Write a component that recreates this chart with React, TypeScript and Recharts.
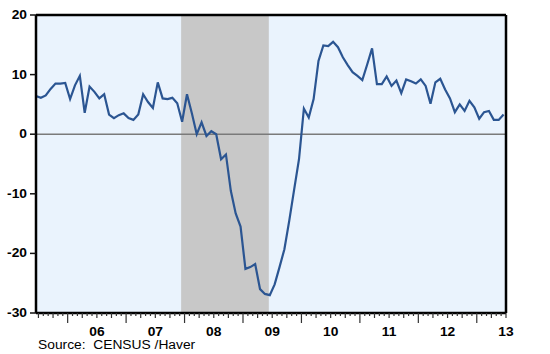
import { LineChart, Line, XAxis, YAxis, CartesianGrid, ReferenceArea, ReferenceLine } from "recharts"

// monthly index: 0 = Jan 2005; first value is Jun 2005
const startMonth = 5
const yoyChange = [
  6.4, 6.1, 6.5, 7.6, 8.5, 8.5, 8.6,
  5.9, 8.2, 9.8, 3.6, 8.0, 7.1, 6.0, 6.7, 3.3, 2.7, 3.2, 3.5,
  2.7, 2.4, 3.3, 6.7, 5.4, 4.4, 8.7, 6.0, 5.9, 6.1, 5.2, 2.1,
  6.7, 3.5, 0.0, 2.0, -0.3, 0.5, 0.0, -4.2, -3.4, -9.5, -13.3, -15.5,
  -22.6, -22.3, -21.8, -26.0, -26.8, -27.0, -25.2, -22.3, -19.3, -14.5, -9.3, -4.2,
  4.3, 2.8, 5.9, 12.3, 14.9, 14.8, 15.5, 14.6, 12.9, 11.6, 10.4, 9.8,
  9.1, 11.7, 14.4, 8.4, 8.4, 9.7, 8.1, 9.0, 6.9, 9.2, 8.9, 8.5,
  9.2, 8.1, 5.1, 8.7, 9.3, 7.5, 6.0, 3.7, 5.0, 3.9, 5.6, 4.5,
  2.6, 3.7, 3.9, 2.4, 2.4, 3.3,
]
const yTicks = [-30, -20, -10, 0, 10, 20]
const yDomain = [-30, 20]
const recession = [35.3, 53.3]
const xDomain = [5.5, 102]
const monthTicks = Array.from({ length: 97 }, (_, i) => i + 6)
const yearLabels = ["06", "07", "08", "09", "10", "11", "12", "13"]
const sourceNote = "Source:  CENSUS /Haver"

// points sit in the middle of their month
const data = yoyChange.map((v, i) => ({ t: startMonth + i + 0.5, v }))

const textStyle = { fontFamily: "Arial, 'Liberation Sans', sans-serif", fontSize: 12, fontWeight: 700 }
const frame = { stroke: "#000", strokeWidth: 2.5 }

function MonthTick(props: any) {
  const { x, y, payload } = props
  const m = payload.value
  const len = m % 12 === 0 ? 10 : m % 3 === 0 ? 5 : 3
  const idx = (m - 18) / 12
  const yr = m % 12 === 6 && idx >= 0 ? yearLabels[idx] : null
  return (
    <g>
      <path d={`M${x},${y}V${y + len}`} stroke="#333" strokeWidth={1.2} fill="none" />
      {yr && (
        <text transform={`translate(${x},${y + 23}) scale(1.15,1)`} textAnchor="middle" fill="#000" style={textStyle}>
          {yr}
        </text>
      )}
    </g>
  )
}

function LeftTick(props: any) {
  const { x, y, payload } = props
  return (
    <g>
      <path d={`M${x - 6},${y}H${x}`} stroke="#111" strokeWidth={1.5} fill="none" />
      <text transform={`translate(${x - 9},${y + 4}) scale(1.15,1)`} textAnchor="end" fill="#000" style={textStyle}>
        {payload.value}
      </text>
    </g>
  )
}

function RightTick(props: any) {
  const { x, y, payload } = props
  return (
    <g>
      <path d={`M${x},${y}H${x + 6}`} stroke="#111" strokeWidth={1.5} fill="none" />
      <text transform={`translate(${x + 10},${y + 4}) scale(1.15,1)`} textAnchor="start" fill="#000" style={textStyle}>
        {payload.value}
      </text>
    </g>
  )
}

export default function App() {
  return (
    <div style={{ position: "relative", width: 550, height: 354, background: "#fff" }}>
      <style>{`body{margin:0}`}</style>
      <LineChart width={550} height={354} data={data} margin={{ top: 15, right: 0, left: 0, bottom: 0 }}>
        <CartesianGrid horizontal={false} vertical={false} fill="#EAF3FD" />
        <ReferenceArea x1={recession[0]} x2={recession[1]} yAxisId="left" fill="#C8C8C8" fillOpacity={1} stroke="none" />
        <XAxis
          dataKey="t"
          type="number"
          domain={xDomain}
          ticks={monthTicks}
          interval={0}
          allowDataOverflow
          height={41}
          axisLine={frame}
          tickLine={false}
          tickSize={0}
          tickMargin={0}
          tick={MonthTick}
        />
        <YAxis
          yAxisId="left"
          domain={yDomain}
          ticks={yTicks}
          width={36}
          axisLine={frame}
          tickLine={false}
          tickSize={0}
          tickMargin={0}
          tick={LeftTick}
        />
        <YAxis
          yAxisId="right"
          orientation="right"
          domain={yDomain}
          ticks={yTicks}
          width={44}
          axisLine={frame}
          tickLine={false}
          tickSize={0}
          tickMargin={0}
          tick={RightTick}
        />
        <ReferenceLine y={0} yAxisId="left" stroke="#7A7A7A" strokeWidth={1.5} />
        <ReferenceLine y={20} yAxisId="left" stroke="#000" strokeWidth={2.5} />
        <Line
          yAxisId="left"
          type="linear"
          dataKey="v"
          stroke="#2B5592"
          strokeWidth={2.2}
          dot={false}
          isAnimationActive={false}
        />
      </LineChart>
      <div
        style={{
          position: "absolute",
          left: 38,
          top: 338,
          fontFamily: "Arial, 'Liberation Sans', sans-serif",
          fontSize: 12,
          color: "#000",
          transform: "scaleX(1.15)",
          transformOrigin: "left top",
          whiteSpace: "pre",
          lineHeight: "14px",
        }}
      >
        {sourceNote}
      </div>
    </div>
  )
}
